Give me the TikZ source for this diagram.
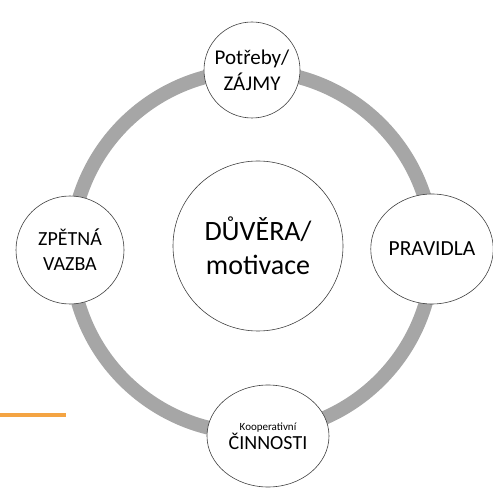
\documentclass[tikz,border=0pt]{standalone}
\usepackage{fontspec}
\setmainfont{Carlito}
\usepackage{tikz}
\usetikzlibrary{shapes.geometric}
\definecolor{ringgray}{HTML}{A6A6A6}
\definecolor{barorange}{HTML}{F4A443}
\tikzset{
  bubble/.style={circle,draw=black!75,fill=white,line width=0.6pt,align=center,inner sep=0pt,font=\fontsize{20}{25}\selectfont},
  oval/.style={ellipse,draw=black!75,fill=white,line width=0.6pt,align=center,inner sep=0pt}
}
\begin{document}
\begin{tikzpicture}[line cap=round,line join=round,x=1pt,y=-1pt]
\useasboundingbox (0,0) rectangle (493,489);
\draw[ringgray,line width=14pt] (252,252) circle (181);
\draw[barorange,line width=4pt,line cap=butt] (0,415)-- (66,415);
\node[bubble,minimum size=170pt,font=\fontsize{28}{34}\selectfont] (trust) at (258,246) {DŮVĚRA/\\motivace};
\node[bubble,minimum size=96pt,font=\fontsize{21}{26}\selectfont] (needs) at (252,70) {Potřeby/\\ZÁJMY};
\node[oval,minimum width=116pt,minimum height=110pt,font=\fontsize{21.5}{26}\selectfont] (rules) at (432,249) {PRAVIDLA};
\node[bubble,minimum size=108pt] (feedback) at (70,250) {ZPĚTNÁ\\VAZBA};
\node[oval,minimum width=122pt,minimum height=102pt] (tasks) at (268,436) {{\fontsize{11}{14}\selectfont Kooperativní}\\{\fontsize{20}{25}\selectfont ČINNOSTI}};
\end{tikzpicture}
\end{document}
